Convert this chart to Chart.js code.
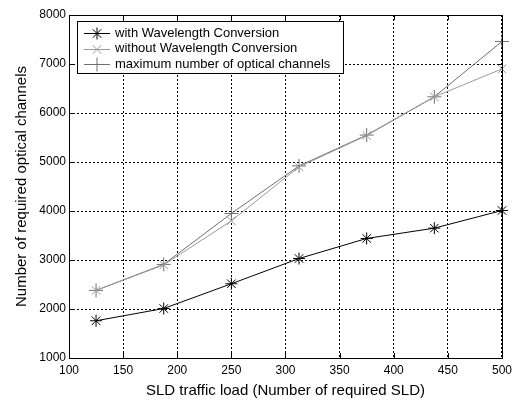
<!DOCTYPE html>
<html lang="en">
<head>
    <meta charset="UTF-8">
    <title>Required optical channels</title>
    <script src="https://cdn.jsdelivr.net/npm/chart.js"></script>
    <style>
        body { margin: 0; background: white; }
        #wrap { width: 517px; height: 402px; }
    </style>
</head>
<body>
    <div id="wrap"><canvas id="chart" width="517" height="402"></canvas></div>
    <script>
        // data
        const sldLoad = [125, 187.5, 250, 312.5, 375, 437.5, 500];
        const withConversion = [1760, 2010, 2515, 3030, 3440, 3650, 4010];
        const withoutConversion = [2380, 2900, 3800, 4900, 5540, 6330, 6900];
        const maxChannels = [2380, 2910, 3950, 4920, 5550, 6330, 7460];
        const xTicks = [100, 150, 200, 250, 300, 350, 400, 450, 500];
        const yTicks = [1000, 2000, 3000, 4000, 5000, 6000, 7000, 8000];

        const font = 'Liberation Sans, Arial, sans-serif';

        function toPoints(vals) {
            return sldLoad.map((x, i) => ({ x: x, y: vals[i] }));
        }

        // MATLAB style frame: box, inward ticks on all sides, legend inside
        const matlabFrame = {
            id: 'matlabFrame',
            afterDatasetsDraw(chart) {
                const ctx = chart.ctx;
                const a = chart.chartArea;
                const xs = chart.scales.x, ys = chart.scales.y;
                ctx.save();
                ctx.strokeStyle = '#000';
                ctx.lineWidth = 1;
                ctx.beginPath();
                xTicks.forEach(v => {
                    const px = Math.round(xs.getPixelForValue(v)) + 0.5;
                    ctx.moveTo(px, a.bottom); ctx.lineTo(px, a.bottom - 5);
                    ctx.moveTo(px, a.top); ctx.lineTo(px, a.top + 5);
                });
                yTicks.forEach(v => {
                    const py = Math.round(ys.getPixelForValue(v)) + 0.5;
                    ctx.moveTo(a.left, py); ctx.lineTo(a.left + 5, py);
                    ctx.moveTo(a.right, py); ctx.lineTo(a.right - 5, py);
                });
                ctx.stroke();
                ctx.strokeRect(Math.round(a.left) + 0.5, Math.round(a.top) + 0.5,
                    Math.round(a.right - a.left), Math.round(a.bottom - a.top));

                // legend box
                const lx = 77.5, ly = 21.5, lw = 266, lh = 52;
                ctx.fillStyle = '#fff';
                ctx.fillRect(lx, ly, lw, lh);
                ctx.strokeRect(lx, ly, lw, lh);
                ctx.font = '13px ' + font;
                ctx.textBaseline = 'middle';
                chart.data.datasets.forEach((ds, i) => {
                    const y = 33 + i * 15.5;
                    ctx.strokeStyle = ds.borderColor;
                    ctx.beginPath();
                    ctx.moveTo(84, Math.round(y) + 0.5);
                    ctx.lineTo(110, Math.round(y) + 0.5);
                    ctx.stroke();
                    Chart.helpers.drawPoint(ctx, {
                        pointStyle: ds.pointStyle, radius: ds.pointRadius,
                        borderWidth: 1
                    }, 97, Math.round(y) + 0.5);
                    ctx.fillStyle = '#000';
                    ctx.fillText(ds.label, 115, y);
                });
                ctx.restore();
            }
        };

        new Chart(document.getElementById('chart'), {
            type: 'line',
            data: {
                datasets: [
                    {
                        label: 'with Wavelength Conversion',
                        data: toPoints(withConversion),
                        borderColor: '#000',
                        pointStyle: 'star',
                        pointRadius: 6
                    },
                    {
                        label: 'without Wavelength Conversion',
                        data: toPoints(withoutConversion),
                        borderColor: '#9a9a9a',
                        pointStyle: 'crossRot',
                        pointRadius: 6
                    },
                    {
                        label: 'maximum number of optical channels',
                        data: toPoints(maxChannels),
                        borderColor: '#707070',
                        pointStyle: 'cross',
                        pointRadius: 7
                    }
                ]
            },
            options: {
                responsive: false,
                animation: false,
                clip: false,
                layout: { padding: { top: 15, right: 11, left: 0, bottom: 0 } },
                elements: {
                    line: { borderWidth: 1, tension: 0 },
                    point: { borderWidth: 1 }
                },
                plugins: {
                    legend: { display: false },
                    tooltip: { enabled: false }
                },
                scales: {
                    x: {
                        type: 'linear',
                        min: 100, max: 500,
                        afterFit: s => { s.height = 44; },
                        afterBuildTicks: s => { s.ticks = xTicks.map(v => ({ value: v })); },
                        grid: { color: '#000', lineWidth: 1, drawTicks: false },
                        border: { display: false, dash: [2, 2] },
                        ticks: {
                            color: '#000', padding: 5,
                            font: { family: font, size: 12 },
                            callback: v => String(v)
                        },
                        title: {
                            display: true,
                            text: 'SLD traffic load (Number of required SLD)',
                            color: '#000',
                            font: { family: font, size: 15 },
                            padding: { top: 0, bottom: 2 }
                        }
                    },
                    y: {
                        min: 1000, max: 8000,
                        afterFit: s => { s.width = 69; },
                        afterBuildTicks: s => { s.ticks = yTicks.map(v => ({ value: v })); },
                        grid: { color: '#000', lineWidth: 1, drawTicks: false },
                        border: { display: false, dash: [2, 2] },
                        ticks: {
                            color: '#000', padding: 3,
                            font: { family: font, size: 12 },
                            callback: v => String(v)
                        },
                        title: {
                            display: true,
                            text: 'Number of required optical channels',
                            color: '#000',
                            font: { family: font, size: 15 },
                            padding: { top: 13, bottom: 0 }
                        }
                    }
                }
            },
            plugins: [matlabFrame]
        });
    </script>
</body>
</html>
